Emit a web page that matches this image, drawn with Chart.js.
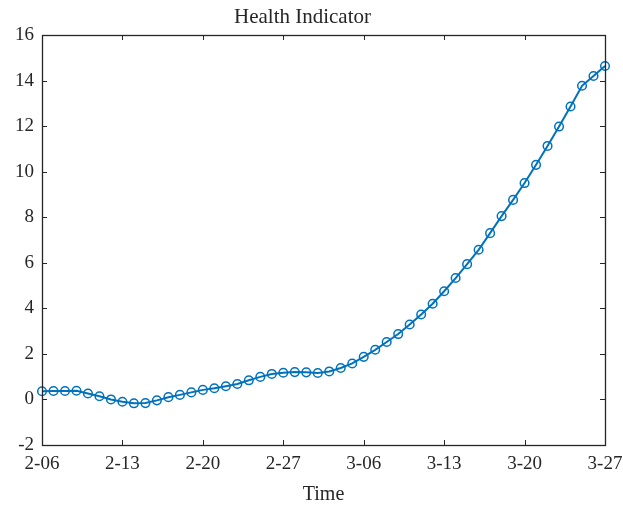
<!DOCTYPE html>
<html>
<head>
<meta charset="utf-8">
<script src="https://cdn.jsdelivr.net/npm/chart.js@4"></script>
<style>
  html, body { margin: 0; padding: 0; background: #ffffff; }
  #wrap { width: 623px; height: 506px; }
</style>
</head>
<body>
<div id="wrap"><canvas id="c" width="623" height="506"></canvas></div>
<script>
const dates = [
  '2-06','2-07','2-08','2-09','2-10','2-11','2-12','2-13','2-14','2-15',
  '2-16','2-17','2-18','2-19','2-20','2-21','2-22','2-23','2-24','2-25',
  '2-26','2-27','2-28','3-01','3-02','3-03','3-04','3-05','3-06','3-07',
  '3-08','3-09','3-10','3-11','3-12','3-13','3-14','3-15','3-16','3-17',
  '3-18','3-19','3-20','3-21','3-22','3-23','3-24','3-25','3-26','3-27'
];
const healthIndicator = [
  0.36, 0.37, 0.37, 0.38, 0.26, 0.14, 0.00, -0.10, -0.17, -0.16,
  -0.04, 0.10, 0.20, 0.31, 0.42, 0.49, 0.58, 0.68, 0.84, 0.99,
  1.12, 1.17, 1.20, 1.19, 1.16, 1.23, 1.38, 1.58, 1.87, 2.18,
  2.52, 2.87, 3.29, 3.73, 4.20, 4.75, 5.33, 5.94, 6.57, 7.30,
  8.05, 8.76, 9.50, 10.30, 11.13, 11.98, 12.86, 13.77, 14.20, 14.64
];
const xTickLabels = ['2-06','2-13','2-20','2-27','3-06','3-13','3-20','3-27'];
const yTickValues = [-2, 0, 2, 4, 6, 8, 10, 12, 14, 16];

const AX = '#262626';
const FONT = 'Liberation Serif';

const boxTicks = {
  id: 'boxTicks',
  afterDatasetsDraw(chart) {
    const {ctx, chartArea: a, scales: {x, y}} = chart;
    ctx.save();
    ctx.strokeStyle = AX;
    ctx.lineWidth = 1;
    const L = 5;
    x.ticks.forEach(t => {
      const px = Math.round(x.getPixelForValue(t.value)) + 0.5;
      ctx.beginPath();
      ctx.moveTo(px, a.bottom); ctx.lineTo(px, a.bottom - L);
      ctx.moveTo(px, a.top); ctx.lineTo(px, a.top + L);
      ctx.stroke();
    });
    y.ticks.forEach(t => {
      const py = Math.round(y.getPixelForValue(t.value)) + 0.5;
      ctx.beginPath();
      ctx.moveTo(a.left, py); ctx.lineTo(a.left + L, py);
      ctx.moveTo(a.right, py); ctx.lineTo(a.right - L, py);
      ctx.stroke();
    });
    ctx.lineWidth = 1.3;
    ctx.strokeRect(Math.round(a.left) + 0.5, Math.round(a.top) + 0.5,
                   Math.round(a.right - a.left), Math.round(a.bottom - a.top));
    ctx.restore();
  }
};

new Chart(document.getElementById('c'), {
  type: 'line',
  data: {
    datasets: [{
      label: 'Health Indicator',
      data: healthIndicator.map((v, i) => ({x: i, y: v})),
      borderColor: '#0072BD',
      borderWidth: 2,
      pointRadius: 4.3,
      pointBorderWidth: 1.5,
      pointBorderColor: '#0072BD',
      pointBackgroundColor: 'rgba(0,0,0,0)',
      tension: 0,
      clip: false
    }]
  },
  options: {
    responsive: false,
    animation: false,
    devicePixelRatio: 1,
    layout: { padding: { left: 0, right: 18, top: 0, bottom: 0 } },
    plugins: {
      legend: { display: false },
      tooltip: { enabled: false },
      title: {
        display: true,
        text: 'Health Indicator',
        color: AX,
        font: { family: FONT, size: 21, weight: 'normal' },
        padding: { top: 4.8, bottom: 5 }
      }
    },
    scales: {
      x: {
        type: 'linear',
        min: 0,
        max: dates.length - 1,
        grid: { display: false, drawTicks: false },
        border: { display: false },
        afterBuildTicks(scale) {
          scale.ticks = xTickLabels.map(l => ({ value: dates.indexOf(l) }));
        },
        afterFit(scale) {
          scale.height = 61;
          scale.paddingLeft = 0;
          scale.paddingRight = 0;
        },
        ticks: {
          autoSkip: false,
          maxRotation: 0,
          padding: 8,
          color: AX,
          font: { family: FONT, size: 19 },
          callback: (v) => dates[v]
        },
        title: {
          display: true,
          text: 'Time',
          color: AX,
          font: { family: FONT, size: 20 },
          padding: { top: 0, bottom: -1 }
        }
      },
      y: {
        type: 'linear',
        min: -2,
        max: 16,
        grid: { display: false, drawTicks: false },
        border: { display: false },
        afterBuildTicks(scale) {
          scale.ticks = yTickValues.map(v => ({ value: v }));
        },
        afterFit(scale) { scale.width = 42; },
        ticks: {
          padding: 8,
          color: AX,
          font: { family: FONT, size: 19 }
        }
      }
    }
  },
  plugins: [boxTicks]
});
</script>
</body>
</html>
